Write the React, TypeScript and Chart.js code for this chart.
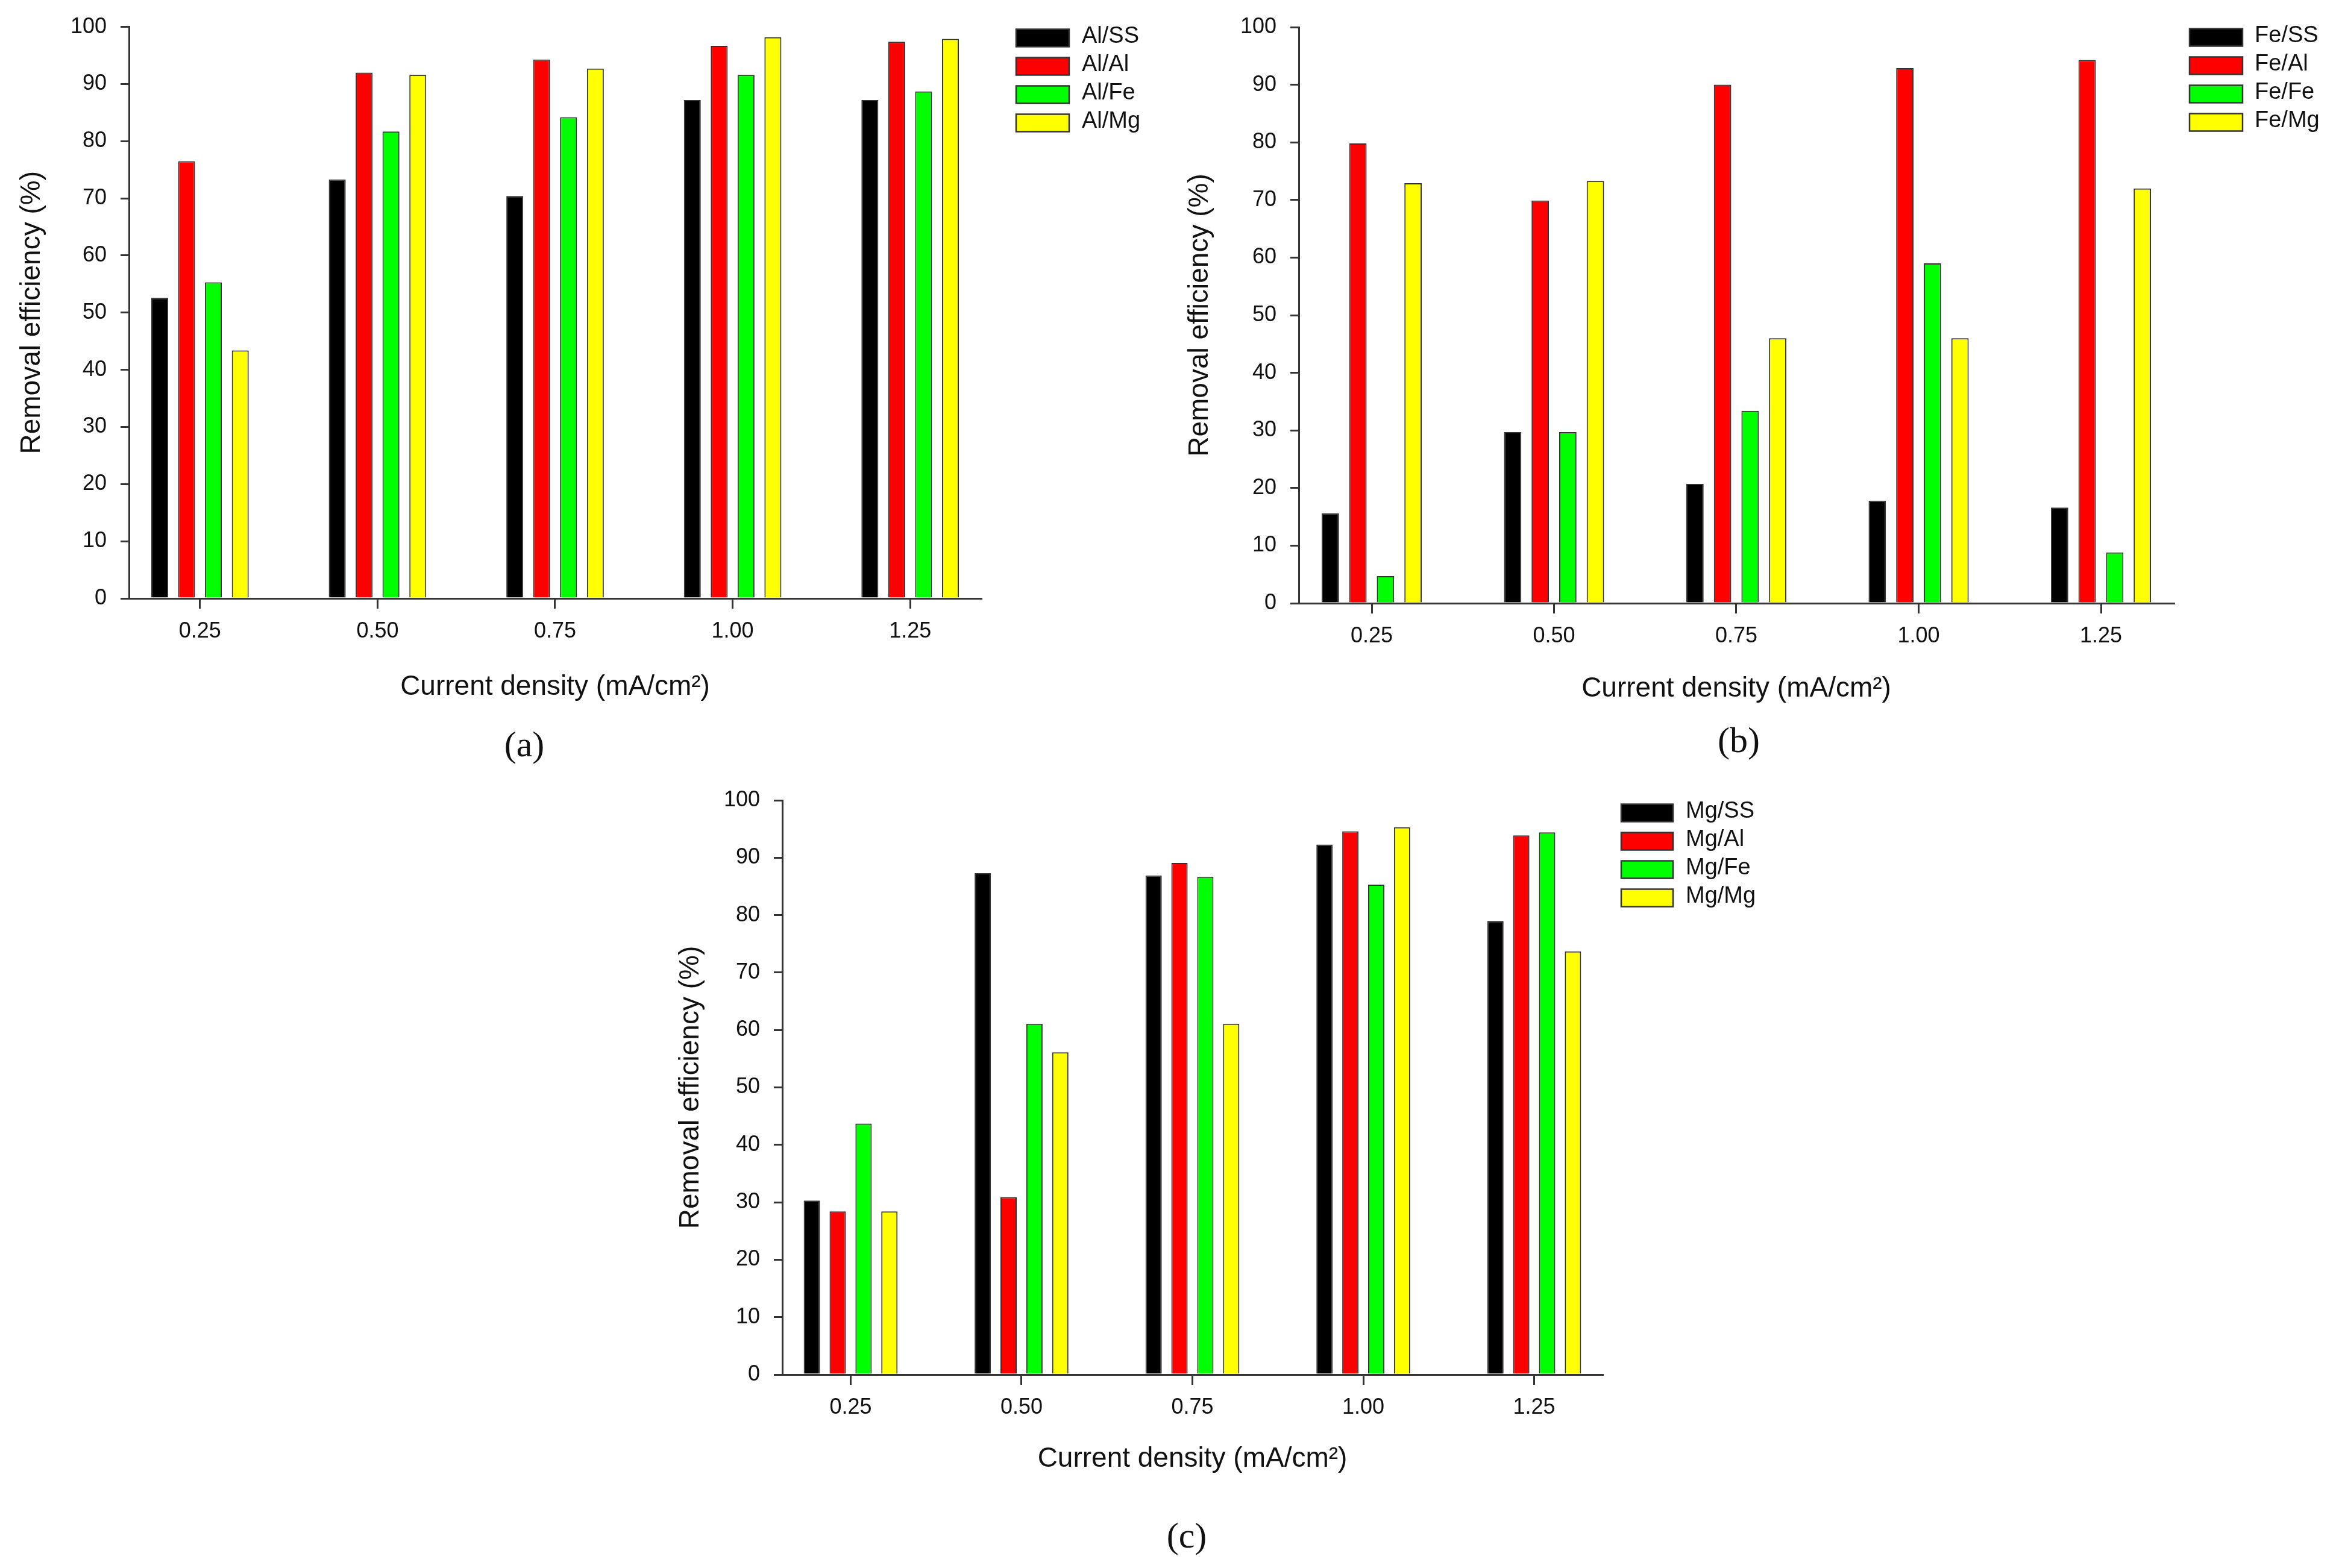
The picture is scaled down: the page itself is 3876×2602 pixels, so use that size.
import React, { useEffect, useRef } from 'react';
import { Chart, registerables } from 'chart.js';

Chart.register(...registerables);

// ---------- data ----------
const currentDensity = [0.25, 0.5, 0.75, 1.0, 1.25];
const tickLabels = ['0.25', '0.50', '0.75', '1.00', '1.25'];

const seriesColors = ['#000000', '#ff0000', '#00ff00', '#ffff00'];

const alLabels = ['Al/SS', 'Al/Al', 'Al/Fe', 'Al/Mg'];
const alSS = [52.6, 73.3, 70.4, 87.2, 87.2];
const alAl = [76.5, 92.0, 94.3, 96.7, 97.4];
const alFe = [55.3, 81.7, 84.2, 91.6, 88.7];
const alMg = [43.4, 91.6, 92.7, 98.2, 97.9];

const feLabels = ['Fe/SS', 'Fe/Al', 'Fe/Fe', 'Fe/Mg'];
const feSS = [15.6, 29.7, 20.7, 17.8, 16.6];
const feAl = [79.8, 69.9, 90.0, 92.9, 94.3];
const feFe = [4.7, 29.7, 33.4, 59.0, 8.8];
const feMg = [72.9, 73.3, 46.0, 46.0, 72.0];

const mgLabels = ['Mg/SS', 'Mg/Al', 'Mg/Fe', 'Mg/Mg'];
const mgSS = [30.3, 87.3, 86.9, 92.3, 79.0];
const mgAl = [28.4, 30.9, 89.1, 94.6, 93.9];
const mgFe = [43.7, 61.1, 86.7, 85.3, 94.4];
const mgMg = [28.4, 56.1, 61.1, 95.3, 73.7];

const xTitle = 'Current density (mA/cm\u00B2)';
const yTitle = 'Removal efficiency (%)';

// ---------- styling ----------
const SANS = '"Liberation Sans", Arial, sans-serif';
const SERIF = '"Liberation Serif", "Times New Roman", serif';
const AXIS = '#333333';
const TEXT = '#111111';

type Layout = {
  L: number; T: number; W: number; H: number;
  CL: number; CR: number; CT: number; CB: number;
  yTitlePad: number; xTitlePad: number;
  legX: number; legY: number; legStep: number; legW: number; legH: number; legTextX: number;
};

const legendPlugin = {
  id: 'panelLegend',
  afterDraw(chart: any, _args: any, opts: any) {
    const ctx = chart.ctx as CanvasRenderingContext2D;
    chart.data.datasets.forEach((ds: any, i: number) => {
      const cy = opts.y + i * opts.step;
      ctx.save();
      ctx.fillStyle = ds.backgroundColor;
      ctx.fillRect(opts.x, cy - opts.h / 2, opts.w, opts.h);
      ctx.lineWidth = 2.5;
      ctx.strokeStyle = AXIS;
      ctx.strokeRect(opts.x, cy - opts.h / 2, opts.w, opts.h);
      ctx.fillStyle = TEXT;
      ctx.font = `38px ${SANS}`;
      ctx.textBaseline = 'middle';
      ctx.textAlign = 'left';
      ctx.fillText(ds.label, opts.textX, cy - 2);
      ctx.restore();
    });
  },
};

function BarPanel({ labels, series, lay }: { labels: string[]; series: number[][]; lay: Layout }) {
  const ref = useRef<HTMLCanvasElement | null>(null);
  useEffect(() => {
    const canvas = ref.current!;
    const yWidth = lay.CL - lay.L;
    const xHeight = lay.T + lay.H - lay.CB;
    const chart = new Chart(canvas, {
      type: 'bar',
      data: {
        datasets: series.map((vals, i) => ({
          label: labels[i],
          data: vals.map((v, j) => ({ x: currentDensity[j], y: v })),
          backgroundColor: seriesColors[i],
          borderColor: AXIS,
          borderWidth: 2,
          categoryPercentage: 0.605,
          barPercentage: 0.63,
        })),
      },
      options: {
        responsive: false,
        animation: false,
        devicePixelRatio: 1,
        layout: {
          padding: { top: lay.CT - lay.T, right: lay.L + lay.W - lay.CR, left: 0, bottom: 0 },
        },
        plugins: {
          legend: { display: false },
          tooltip: { enabled: false },
          panelLegend: {
            x: lay.legX - lay.L, y: lay.legY - lay.T, step: lay.legStep,
            w: lay.legW, h: lay.legH, textX: lay.legTextX - lay.L,
          },
        } as any,
        scales: {
          x: {
            type: 'linear',
            min: 0.15,
            max: 1.35,
            offset: false,
            z: 1,
            afterBuildTicks: (s: any) => {
              s.ticks = currentDensity.map((v) => ({ value: v }));
            },
            afterFit: (s: any) => {
              s.height = xHeight;
            },
            ticks: {
              callback: (_v: any, idx: number) => tickLabels[idx],
              font: { family: SANS, size: 36 },
              color: TEXT,
              padding: 16,
              maxRotation: 0,
              autoSkip: false,
            },
            grid: { offset: false, drawOnChartArea: false, drawTicks: true, tickLength: 17, color: AXIS, lineWidth: 3 },
            border: { display: true, color: AXIS, width: 3 },
            title: {
              display: true,
              text: xTitle,
              font: { family: SANS, size: 46 },
              color: TEXT,
              padding: { top: 0, bottom: lay.xTitlePad },
            },
          } as any,
          y: {
            type: 'linear',
            min: 0,
            max: 100,
            afterFit: (s: any) => {
              s.width = yWidth;
            },
            ticks: {
              stepSize: 10,
              font: { family: SANS, size: 36 },
              color: TEXT,
              padding: 23,
            },
            grid: { drawOnChartArea: false, drawTicks: true, tickLength: 14, color: AXIS, lineWidth: 3 },
            border: { display: true, color: AXIS, width: 3 },
            title: {
              display: true,
              text: yTitle,
              font: { family: SANS, size: 46 },
              color: TEXT,
              padding: { top: lay.yTitlePad, bottom: 0 },
            },
          } as any,
        },
      },
      plugins: [legendPlugin as any],
    });
    return () => chart.destroy();
  }, []);
  return (
    <canvas
      ref={ref}
      width={lay.W}
      height={lay.H}
      style={{ position: 'absolute', left: lay.L, top: lay.T, width: lay.W, height: lay.H }}
    />
  );
}

const layA: Layout = {
  L: 0, T: 0, W: 1950, H: 1200,
  CL: 214, CR: 1628, CT: 31, CB: 993,
  yTitlePad: 26, xTitlePad: 32,
  legX: 1686, legY: 63, legStep: 47, legW: 88, legH: 29, legTextX: 1795,
};

const layB: Layout = {
  L: 1940, T: 0, W: 1936, H: 1200,
  CL: 2155, CR: 3607, CT: 45, CB: 1001,
  yTitlePad: 24, xTitlePad: 29,
  legX: 3633, legY: 62, legStep: 47, legW: 88, legH: 29, legTextX: 3741,
};

const layC: Layout = {
  L: 1090, T: 1270, W: 1900, H: 1190,
  CL: 1298, CR: 2659, CT: 1328, CB: 2281,
  yTitlePad: 29, xTitlePad: 11,
  legX: 2690, legY: 1349, legStep: 47, legW: 86, legH: 29, legTextX: 2797,
};

function Caption({ text, cx, cy }: { text: string; cx: number; cy: number }) {
  return (
    <div
      style={{
        position: 'absolute',
        left: cx - 100,
        top: cy - 32,
        width: 200,
        height: 64,
        lineHeight: '64px',
        textAlign: 'center',
        fontFamily: SERIF,
        fontSize: 60,
        color: TEXT,
      }}
    >
      {text}
    </div>
  );
}

export default function App() {
  return (
    <div
      style={{
        position: 'absolute',
        left: 0,
        top: 0,
        width: 3876,
        height: 2602,
        background: '#ffffff',
        overflow: 'hidden',
      }}
    >
      <BarPanel labels={alLabels} series={[alSS, alAl, alFe, alMg]} lay={layA} />
      <BarPanel labels={feLabels} series={[feSS, feAl, feFe, feMg]} lay={layB} />
      <BarPanel labels={mgLabels} series={[mgSS, mgAl, mgFe, mgMg]} lay={layC} />
      <Caption text="(a)" cx={870} cy={1235} />
      <Caption text="(b)" cx={2885} cy={1228} />
      <Caption text="(c)" cx={1969} cy={2548} />
    </div>
  );
}
